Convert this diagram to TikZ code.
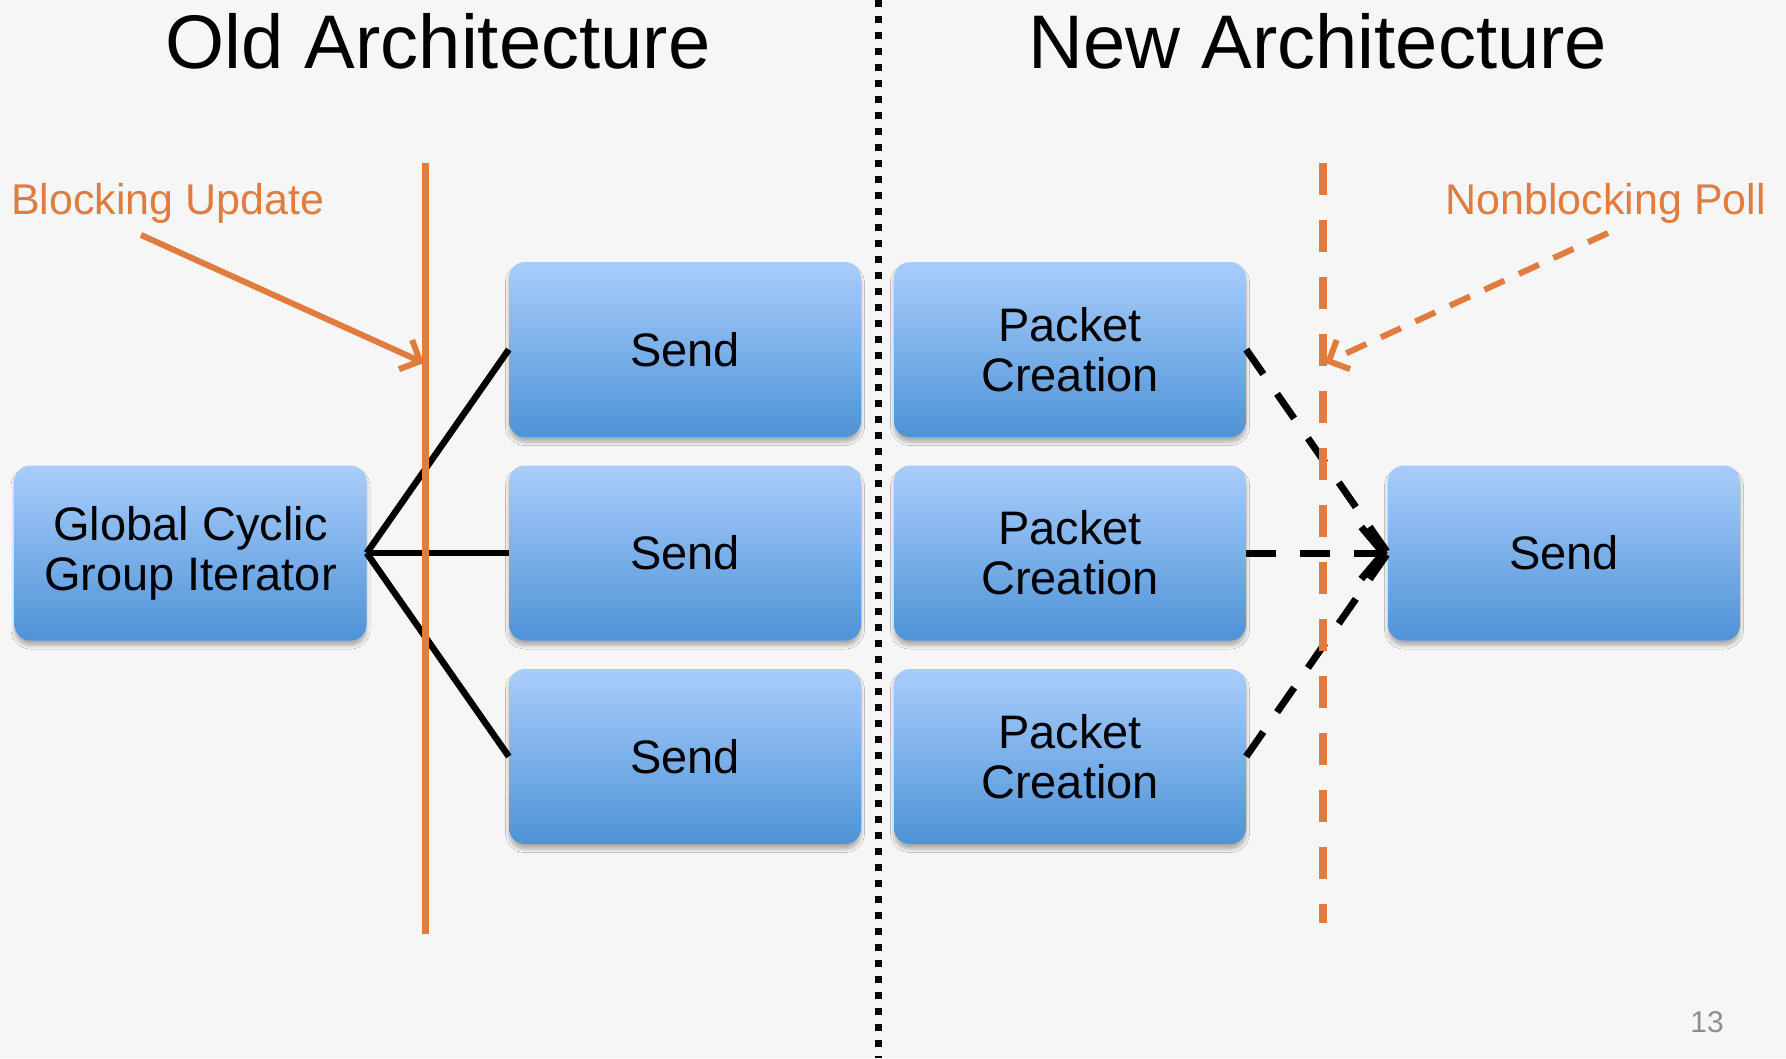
\documentclass[tikz,border=0pt]{standalone}
\usepackage{fontspec}
\setmainfont{Liberation Sans}
\usetikzlibrary{arrows.meta,shadows.blur}
\definecolor{bg}{HTML}{F6F6F6}
\definecolor{orng}{HTML}{E07D3E}
\definecolor{boxtop}{HTML}{A9CDFB}
\definecolor{boxbot}{HTML}{4E93D7}
\definecolor{pgnum}{HTML}{8E8E8E}
\tikzset{
  box/.style={rectangle, rounded corners=16pt, minimum width=352pt, minimum height=175pt,
    top color=boxtop, bottom color=boxbot, inner sep=0pt, align=center,
    font=\fontsize{47}{50}\selectfont,
    blur shadow={shadow xshift=0pt, shadow yshift=-5pt, shadow blur radius=3.5pt, shadow opacity=30, shadow blur steps=8}},
  titletext/.style={font=\fontsize{76}{80}\selectfont, inner sep=0pt, anchor=base},
  orangelabel/.style={font=\fontsize{43}{46}\selectfont, text=orng, inner sep=0pt},
  fanline/.style={line width=6.5pt, black},
  polline/.style={line width=7pt, black, dash pattern=on 30pt off 24pt},
  separator/.style={line width=7pt, black, dash pattern=on 7pt off 9pt},
  blockline/.style={line width=7pt, orng},
  pollline/.style={line width=7.5pt, orng, dash pattern=on 32pt off 25pt},
  blockarrow/.style={line width=6pt, orng, -{Straight Barb[length=16pt,width=32pt]}},
  pollarrow/.style={line width=6pt, orng, dash pattern=on 22pt off 16pt, -{Straight Barb[length=16pt,width=32pt]}},
}
\begin{document}
\begin{tikzpicture}[x=1pt,y=-1pt]
\fill[bg] (0,0) rectangle (1786,1058);
\useasboundingbox (0,0) rectangle (1786,1058);

% titles
\node[titletext] (told) at (438,68) {Old Architecture};
\node[titletext] (tnew) at (1318,68) {New Architecture};

% separator
\coordinate (sepTop) at (878,0);
\coordinate (sepBot) at (878,1058);
\draw[separator] (sepTop) -- (sepBot);

% boxes
\node[box] (glob) at (190.5,553) {Global Cyclic\\Group Iterator};
\node[box] (send1) at (685,349.5) {Send};
\node[box] (send2) at (685,553) {Send};
\node[box] (send3) at (685,756.5) {Send};
\node[box] (pc1) at (1070,349.5) {Packet\\Creation};
\node[box] (pc2) at (1070,553) {Packet\\Creation};
\node[box] (pc3) at (1070,756.5) {Packet\\Creation};
\node[box] (sendR) at (1564,553) {Send};

% old connectors
\draw[fanline] (glob.east) -- (send1.west);
\draw[fanline] (glob.east) -- (send2.west);
\draw[fanline] (glob.east) -- (send3.west);

% new connectors
\draw[polline] (pc1.east) -- (sendR.west);
\draw[polline] (pc3.east) -- (sendR.west);
\draw[polline, -{Straight Barb[length=22pt,width=52pt]}] (pc2.east) -- (sendR.west);

% blocking update
\coordinate (blTop) at (425,163);
\coordinate (blBot) at (425,934);
\draw[blockline] (blTop) -- (blBot);
\node[orangelabel, anchor=base west] (blab) at (11,214) {Blocking Update};
\coordinate (baStart) at (141,235);
\coordinate (baEnd) at (424,363);
\draw[blockarrow] (baStart) -- (baEnd);

% nonblocking poll
\coordinate (plTop) at (1323,163);
\coordinate (plBot) at (1323,923);
\draw[pollline] (plTop) -- (plBot);
\node[orangelabel, anchor=base east] (plab) at (1766,214) {Nonblocking Poll};
\coordinate (paStart) at (1608,233);
\coordinate (paEnd) at (1325,363);
\draw[pollarrow] (paStart) -- (paEnd);

% page number
\node[font=\fontsize{30}{32}\selectfont, text=pgnum, inner sep=0pt, anchor=base] (pnum) at (1707,1032) {13};
\end{tikzpicture}
\end{document}
